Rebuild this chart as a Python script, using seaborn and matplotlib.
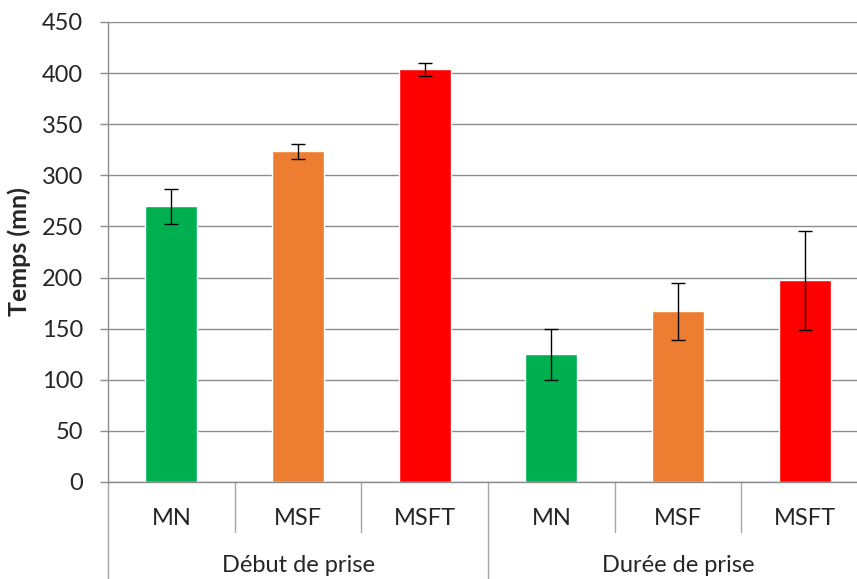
import matplotlib
matplotlib.use('Agg')
import matplotlib.pyplot as plt
import matplotlib.transforms as mtransforms
import numpy as np
import pandas as pd
import seaborn as sns

# values (minutes)
groups = ['Début de prise', 'Durée de prise']
mortars = ['MN', 'MSF', 'MSFT']
debut_vals = [270, 324, 404]
debut_err_low = [252, 316, 397]
debut_err_high = [287, 331, 410]
duree_vals = [125, 167, 198]
duree_err_low = [100, 139, 149]
duree_err_high = [150, 195, 246]
bar_colors = ['#00B050', '#ED7D31', '#FF0000']
y_ticks = [0, 50, 100, 150, 200, 250, 300, 350, 400, 450]

sns.set_style('white')
plt.rcParams['font.family'] = ['Lato', 'DejaVu Sans']

df = pd.DataFrame({
    'slot': [f'{g}|{m}' for g in groups for m in mortars],
    'mortar': mortars * 2,
    'temps': debut_vals + duree_vals,
    'low': debut_err_low + duree_err_low,
    'high': debut_err_high + duree_err_high,
})

fig = plt.figure(figsize=(8.57, 5.79), dpi=100)
ax = fig.add_axes([108/857, 1 - 482/579, 760/857, 460/579])

sns.barplot(data=df, x='slot', y='temps', hue='mortar', palette=bar_colors,
            dodge=False, width=0.41, legend=False, ax=ax, errorbar=None,
            saturation=1)

xs = np.arange(len(df))
yerr = [df['temps'] - df['low'], df['high'] - df['temps']]
ax.errorbar(xs, df['temps'], yerr=yerr, fmt='none', ecolor='black',
            elinewidth=1.0, capsize=5, capthick=1.0, zorder=5)

ax.set_ylim(0, 450)
ax.set_xlim(-0.5, 5.5)
ax.set_yticks(y_ticks)
ax.yaxis.grid(True, color='#8c8c8c', linewidth=1.0)
ax.set_axisbelow(True)
for s in ['top', 'right']:
    ax.spines[s].set_visible(False)
for s in ['left', 'bottom']:
    ax.spines[s].set_color('#8c8c8c')
    ax.spines[s].set_linewidth(1.0)

ax.tick_params(axis='y', which='major', length=6, width=1.0, color='#8c8c8c',
               pad=12, labelsize=17, left=True)
ax.set_xticks(xs)
ax.set_xticklabels(df['mortar'])
ax.tick_params(axis='x', which='major', length=0, pad=19, labelsize=17)
ax.set_xlabel('')
ax.set_ylabel('Temps (mn)', fontsize=18, fontweight='bold', labelpad=8)

# separators under the category axis
trans = mtransforms.blended_transform_factory(ax.transData, ax.transAxes)
for i in range(len(df) + 1):
    x = i - 0.5
    depth = -97/460 if i % 3 == 0 else -50/460
    ax.plot([x, x], [0, depth], color='#a6a6a6', linewidth=1.0,
            transform=trans, clip_on=False)

for j, g in enumerate(groups):
    ax.text(j * 3 + 1, -84/460, g, transform=trans, ha='center', va='center',
            fontsize=17)

fig.savefig('out.png', dpi=100)
